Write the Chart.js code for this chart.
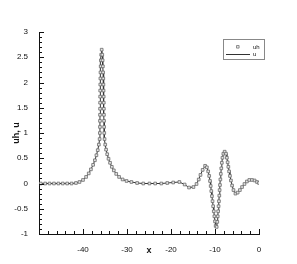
<!DOCTYPE html>
<html>
<head>
<meta charset="utf-8">
<script src="https://cdn.jsdelivr.net/npm/chart.js@4/dist/chart.umd.min.js"></script>
<style>
html,body{margin:0;padding:0;background:#fff;}
canvas{display:block;}
</style>
</head>
<body>
<canvas id="c" width="297" height="264"></canvas>
<script>
// ---- data ----
const xValues = [
-49.6,-48.6,-47.6,-46.6,-45.6,-44.6,-43.6,-42.6,-41.6,
-40.8,-40.0,-39.3,-38.7,-38.2,-37.7,-37.3,-36.95,-36.65,-36.4,-36.22,
-36.17,-36.15,-36.14,-36.13,-36.12,-36.11,-36.1,-36.09,-36.07,-36.05,-36.02,-35.98,-35.93,-35.86,-35.75,
-35.62,-35.54,-35.48,-35.43,-35.39,-35.36,-35.33,-35.3,-35.28,-35.26,-35.24,-35.22,-35.2,-35.17,-35.1,
-34.95,-34.75,-34.5,-34.2,-33.85,-33.45,-33.0,-32.45,-31.8,-31.0,-30.1,-29.0,-27.7,
-26.3,-24.9,-23.6,-22.2,-20.85,-19.5,-18.1,-16.9,-15.9,-14.9,-14.2,-13.7,-13.3,-12.8,-12.25,
-11.85,-11.55,-11.32,-11.13,-10.98,-10.84,-10.7,-10.56,-10.42,-10.28,-10.14,-10.0,-9.85,-9.62,
-9.48,-9.38,-9.28,-9.19,-9.1,-9.02,-8.95,-8.87,-8.78,-8.68,-8.57,-8.45,-8.3,-8.1,-7.8,
-7.5,-7.3,-7.13,-6.97,-6.8,-6.6,-6.38,-6.12,-5.8,-5.35,-4.85,-4.35,-3.85,-3.3,-2.75,-2.2,-1.6,-1.0,-0.45,0.0
];
const uhValues = [
0,0,0,0,0,0,0,0,0.01,
0.03,0.07,0.13,0.2,0.28,0.37,0.46,0.56,0.66,0.77,0.88,
1.0,1.12,1.24,1.36,1.48,1.6,1.72,1.84,1.96,2.08,2.2,2.32,2.44,2.55,2.65,
2.55,2.44,2.32,2.2,2.08,1.96,1.84,1.72,1.6,1.48,1.36,1.24,1.12,1.0,0.88,
0.77,0.67,0.58,0.49,0.41,0.33,0.26,0.19,0.13,0.08,0.05,0.03,0.01,
0,0,0,0,0.01,0.02,0.03,-0.02,-0.08,-0.07,-0.01,0.08,0.17,0.27,0.35,
0.32,0.24,0.15,0.05,-0.05,-0.15,-0.25,-0.35,-0.45,-0.55,-0.65,-0.75,-0.84,-0.86,
-0.76,-0.65,-0.55,-0.45,-0.35,-0.24,-0.13,-0.03,0.08,0.19,0.3,0.41,0.51,0.59,0.63,
0.59,0.51,0.42,0.33,0.24,0.15,0.06,-0.04,-0.13,-0.2,-0.18,-0.13,-0.07,-0.01,0.04,0.07,0.07,0.06,0.03,0.01
];
const uValues = uhValues.slice();
const xTicks = [-50,-40,-30,-20,-10,0];
const yTicks = [-1,-0.5,0,0.5,1,1.5,2,2.5,3];
const xMinorStep = 2;
const yMinorStep = 0.1;
const seriesNames = ['uh','u'];
const xTitle = 'x';
const yTitle = 'uh, u';

const FONT = '"Liberation Sans", Arial, Helvetica, sans-serif';

const inwardTicks = {
  id: 'inwardTicks',
  afterDatasetsDraw(chart) {
    const ctx = chart.ctx;
    const xs = chart.scales.x, ys = chart.scales.y;
    const ca = chart.chartArea;
    ctx.save();
    ctx.strokeStyle = '#111';
    ctx.lineWidth = 1;
    ctx.beginPath();
    for (let v = xs.min; v <= xs.max + 1e-9; v += xMinorStep) {
      const major = xTicks.some(t => Math.abs(t - v) < 1e-6);
      const len = major ? 5 : 3;
      const px = Math.round(xs.getPixelForValue(v)) + 0.5;
      ctx.moveTo(px, ca.bottom);
      ctx.lineTo(px, ca.bottom - len);
    }
    const n = Math.round((ys.max - ys.min) / yMinorStep);
    for (let i = 0; i <= n; i++) {
      const v = ys.min + i * yMinorStep;
      const major = yTicks.some(t => Math.abs(t - v) < 1e-6);
      const len = major ? 5 : 3;
      const py = Math.round(ys.getPixelForValue(v)) + 0.5;
      ctx.moveTo(ca.left, py);
      ctx.lineTo(ca.left + len, py);
    }
    ctx.stroke();
    ctx.restore();
  }
};

const boxLegend = {
  id: 'boxLegend',
  afterDraw(chart) {
    const ctx = chart.ctx;
    const ca = chart.chartArea;
    const right = ca.right + 5, top = ca.top + 7;
    const w = 41, h = 20;
    const left = right - w;
    ctx.save();
    ctx.strokeStyle = '#888';
    ctx.lineWidth = 1;
    ctx.strokeRect(Math.round(left) + 0.5, Math.round(top) + 0.5, w, h);
    const r1 = top + 8, r2 = top + 15;
    ctx.fillStyle = '#e6e6e6';
    ctx.strokeStyle = '#777';
    ctx.lineWidth = 0.8;
    ctx.beginPath();
    ctx.rect(left + 13.5, r1 - 1.5, 2.6, 2.6);
    ctx.fill(); ctx.stroke();
    ctx.strokeStyle = '#333';
    ctx.lineWidth = 1;
    ctx.beginPath();
    ctx.moveTo(left + 3, Math.round(r2) + 0.5);
    ctx.lineTo(left + 27, Math.round(r2) + 0.5);
    ctx.stroke();
    ctx.fillStyle = '#111';
    ctx.font = '6px ' + FONT;
    ctx.textBaseline = 'middle';
    ctx.textAlign = 'left';
    ctx.fillText(seriesNames[0], left + 30, r1);
    ctx.fillText(seriesNames[1], left + 30, r2);
    ctx.restore();
  }
};

new Chart(document.getElementById('c'), {
  type: 'scatter',
  data: {
    datasets: [
      {
        label: seriesNames[0],
        data: xValues.map((x, i) => ({x, y: uhValues[i]})),
        showLine: false,
        pointStyle: 'rect',
        pointRadius: 1.9,
        pointBackgroundColor: '#e6e6e6',
        pointBorderColor: '#6a6a6a',
        pointBorderWidth: 0.8,
        order: 0
      },
      {
        label: seriesNames[1],
        data: xValues.map((x, i) => ({x, y: uValues[i]})),
        showLine: true,
        pointRadius: 0,
        borderColor: '#333',
        borderWidth: 1,
        tension: 0,
        order: 1
      }
    ]
  },
  options: {
    responsive: false,
    animation: false,
    devicePixelRatio: 1,
    layout: {padding: {left: 0, right: 38, top: 32, bottom: 0}},
    plugins: {legend: {display: false}, tooltip: {enabled: false}},
    scales: {
      x: {
        type: 'linear', min: -50, max: 0,
        afterBuildTicks: s => { s.ticks = xTicks.map(v => ({value: v})); },
        afterFit: s => { s.height = 30; },
        grid: {display: false},
        border: {display: true, color: '#111', width: 1},
        ticks: {
          color: '#111', padding: 3, maxRotation: 0, autoSkip: false,
          font: {family: FONT, size: 8},
          callback: v => (v === -50 ? '' : String(v))
        },
        title: {display: true, text: xTitle, color: '#111',
          font: {family: FONT, size: 9, weight: 'bold'}, padding: {top: 0, bottom: 8}}
      },
      y: {
        type: 'linear', min: -1, max: 3,
        afterBuildTicks: s => { s.ticks = yTicks.map(v => ({value: v})); },
        afterFit: s => { s.width = 39; },
        grid: {display: false},
        border: {display: true, color: '#111', width: 1},
        ticks: {
          color: '#111', padding: 3, autoSkip: false,
          font: {family: FONT, size: 8},
          callback: v => String(v)
        },
        title: {display: true, text: yTitle, color: '#111',
          font: {family: FONT, size: 9, weight: 'bold'}, padding: {top: 11, bottom: 0}}
      }
    }
  },
  plugins: [inwardTicks, boxLegend]
});
</script>
</body>
</html>
